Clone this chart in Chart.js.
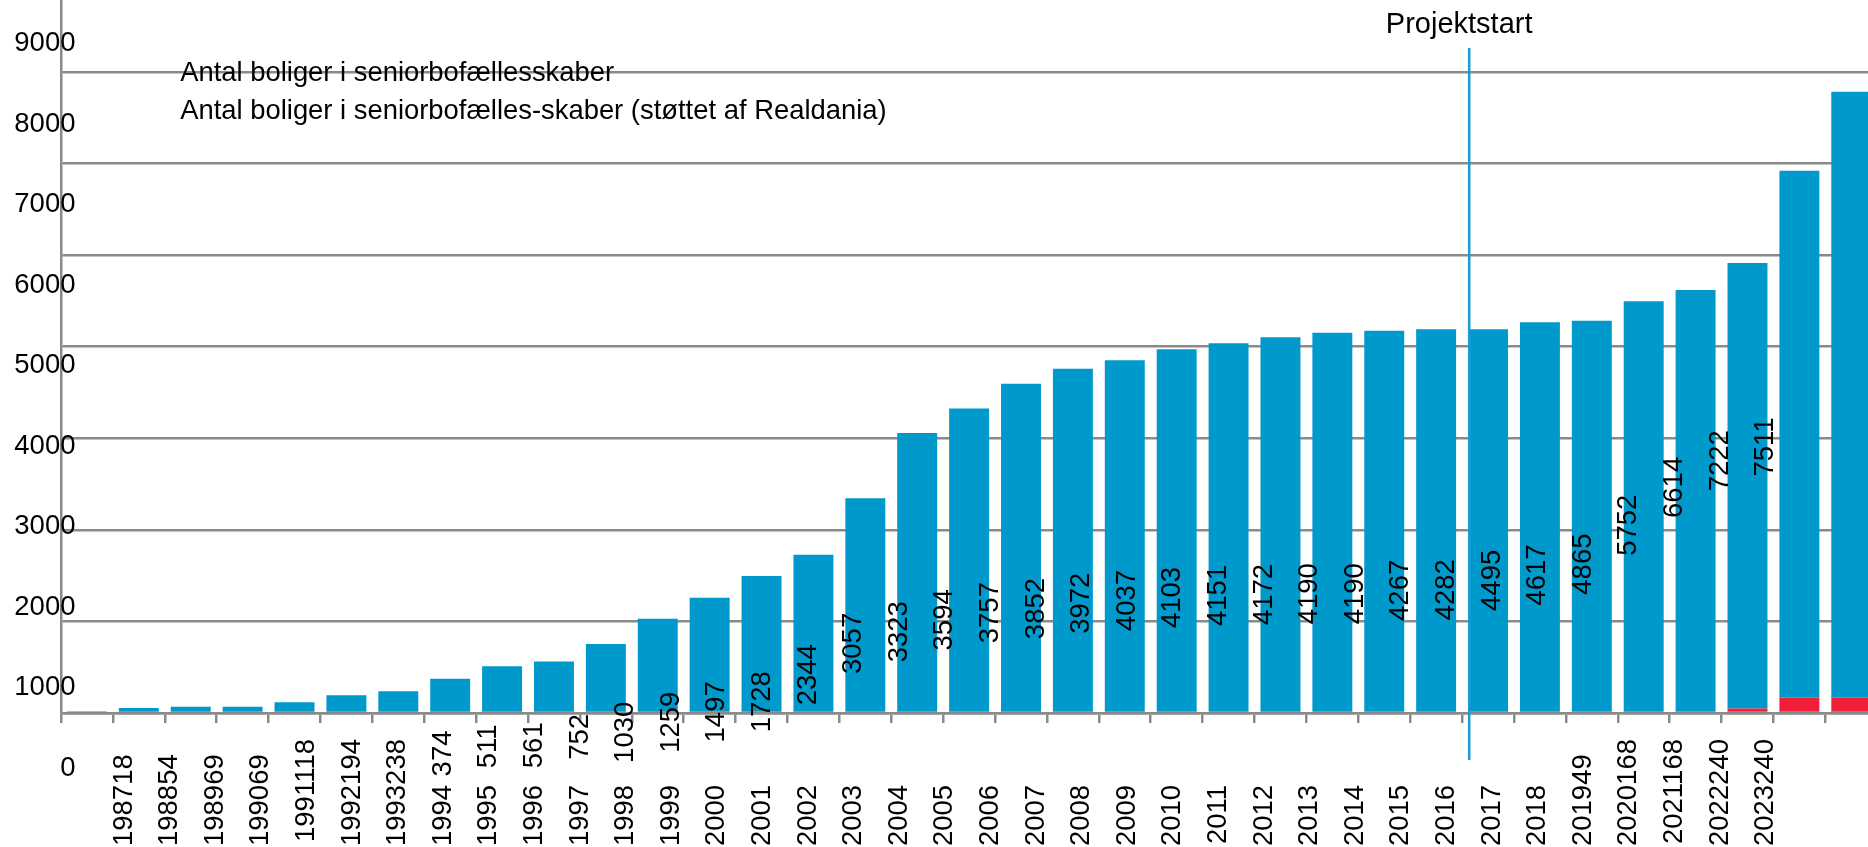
<!DOCTYPE html>
<html>
<head>
<meta charset="utf-8">
<title>Antal boliger i seniorbofællesskaber</title>
<script src="https://cdn.jsdelivr.net/npm/chart.js@4.4.1/dist/chart.umd.min.js"></script>
<style>
  html, body { margin: 0; padding: 0; background: #fff; overflow: hidden; }
  #wrap { position: relative; width: 2051px; height: 847px; }
</style>
</head>
<body>
<div id="wrap"><canvas id="chart"></canvas></div>
<script>
// Antal boliger i seniorbofællesskaber 1987-2023

const years = ['1987', '1988', '1989', '1990', '1991', '1992', '1993', '1994', '1995', '1996',
    '1997', '1998', '1999', '2000', '2001', '2002', '2003', '2004', '2005', '2006',
    '2007', '2008', '2009', '2010', '2011', '2012', '2013', '2014', '2015', '2016',
    '2017', '2018', '2019', '2020', '2021', '2022', '2023'];

const totalHomes = [18, 54, 69, 69, 118, 194, 238, 374, 511, 561,
    752, 1030, 1259, 1497, 1728, 2344, 3057, 3323, 3594, 3757,
    3852, 3972, 4037, 4103, 4151, 4172, 4190, 4190, 4267, 4282,
    4495, 4617, 4865, 5752, 6614, 7222, 7511];

const realdaniaHomes = [0, 0, 0, 0, 0, 0, 0, 0, 0, 0,
    0, 0, 0, 0, 0, 0, 0, 0, 0, 0,
    0, 0, 0, 0, 0, 0, 0, 0, 0, 0,
    0, 0, 49, 168, 168, 240, 240];

// labels under the axis, as they are written in the original
const tickLabels = ['198718', '198854', '198969', '199069', '1991118', '1992194', '1993238', '1994', '1995', '1996',
    '1997', '1998', '1999', '2000', '2001', '2002', '2003', '2004', '2005', '2006',
    '2007', '2008', '2009', '2010', '2011', '2012', '2013', '2014', '2015', '2016',
    '2017', '2018', '201949', '2020168', '2021168', '2022240', '2023240'];

// numbers floating above the year labels, from 1994 on
const floatingFrom = years.indexOf('1994');
const floatingValues = totalHomes.slice(floatingFrom);

// tick labels on the left, and the gridlines behind the bars
const yTickValues = [0, 1000, 2000, 3000, 4000, 5000, 6000, 7000, 8000, 9000];
const gridValues = [0, 1000, 2000, 3000, 4000, 5000, 6000, 7000];

const seriesNames = [
    'Antal boliger i seniorbofællesskaber',
    'Antal boliger i seniorbofælles-skaber (støttet af Realdania)'
];

const projectStart = { text: 'Projektstart', afterYear: '2016' };

// Styles
const gray = '#8a8a8a';
const blue = '#0099cc';
const red = '#f21f38';
const lineBlue = '#1a9ad6';
const fontFamily = '"Liberation Sans", Arial, sans-serif';

Chart.defaults.font.family = fontFamily;
Chart.defaults.color = '#000';

// every label gets the width of 7 digits (a space is half a digit wide),
// so the rotated labels all start on the same line
function padLabel(label) {
    return label + ' '.repeat(Math.max(0, 2 * (7 - label.length)));
}

// Numbers drawn at the hidden points of the third dataset
const floatingLabels = {
    id: 'floatingLabels',
    afterDatasetsDraw(chart) {
        const ctx = chart.ctx;
        const meta = chart.getDatasetMeta(2);
        ctx.save();
        ctx.font = '27.5px ' + fontFamily;
        ctx.fillStyle = '#000';
        ctx.textAlign = 'right';
        ctx.textBaseline = 'middle';
        meta.data.forEach((point, i) => {
            ctx.save();
            ctx.translate(point.x, point.y);
            ctx.rotate(-Math.PI / 2);
            ctx.fillText(String(floatingValues[i]), 0, 0);
            ctx.restore();
        });
        ctx.restore();
    }
};

// Vertical marker between 2016 and 2017
const projectStartLine = {
    id: 'projectStartLine',
    afterDatasetsDraw(chart) {
        const { ctx, chartArea, scales } = chart;
        const x = scales.x2.getPixelForValue(years.indexOf(projectStart.afterYear) + 0.5);
        ctx.save();
        ctx.strokeStyle = lineBlue;
        ctx.lineWidth = 2.5;
        ctx.beginPath();
        ctx.moveTo(x, chartArea.top + 48);
        ctx.lineTo(x, chartArea.bottom + 47);
        ctx.stroke();
        ctx.font = '29px ' + fontFamily;
        ctx.fillStyle = '#000';
        ctx.textAlign = 'center';
        ctx.textBaseline = 'alphabetic';
        ctx.fillText(projectStart.text, x - 10, chartArea.top + 33);
        ctx.restore();
    }
};

new Chart(document.getElementById('chart'), {
    type: 'bar',
    data: {
        labels: years,
        datasets: [
            {
                label: seriesNames[1],
                data: realdaniaHomes,
                backgroundColor: red,
                grouped: false,
                categoryPercentage: 1,
                barPercentage: 0.77
            },
            {
                label: seriesNames[0],
                data: totalHomes,
                backgroundColor: blue,
                grouped: false,
                categoryPercentage: 1,
                barPercentage: 0.77
            },
            {
                type: 'line',
                label: 'values',
                data: floatingValues.map((v, i) => ({ x: floatingFrom + i, y: v })),
                xAxisID: 'x2',
                yAxisID: 'y3',
                showLine: false,
                pointRadius: 0,
                pointHoverRadius: 0
            }
        ]
    },
    options: {
        responsive: true,
        maintainAspectRatio: false,
        animation: false,
        layout: { padding: { top: 0, left: 61, right: 70, bottom: 124 } },
        plugins: {
            tooltip: { enabled: false },
            legend: {
                position: 'chartArea',
                align: 'start',
                reverse: true,
                title: { display: true, text: ' ', font: { size: 12 }, padding: { top: 34, bottom: 0 } },
                labels: {
                    font: { size: 27.4 },
                    color: '#000',
                    boxWidth: 94.5,
                    padding: 11,
                    filter: item => item.datasetIndex < 2,
                    generateLabels: c => Chart.defaults.plugins.legend.labels.generateLabels(c).map(item =>
                        Object.assign(item, { fillStyle: 'rgba(0,0,0,0)', strokeStyle: 'rgba(0,0,0,0)', lineWidth: 0 }))
                }
            }
        },
        scales: {
            x: {
                type: 'category',
                stacked: true,
                offset: true,
                z: 1,
                grid: { offset: true, drawOnChartArea: false, drawTicks: true, tickLength: 10, color: gray, lineWidth: 2.5 },
                border: { color: gray, width: 2.5 },
                ticks: { display: false }
            },
            y: {
                stacked: true,
                bounds: 'data',
                min: 0,
                max: 7784,
                afterBuildTicks: scale => { scale.ticks = gridValues.map(value => ({ value })); },
                grid: { color: gray, lineWidth: 2.5, drawTicks: false },
                border: { color: gray, width: 2.5 },
                ticks: { display: false }
            },
            x2: {
                type: 'linear',
                position: { y: 0 },
                offset: false,
                bounds: 'data',
                min: -1.3816,
                max: 40.724,
                grid: { display: false, drawTicks: false },
                border: { display: false },
                afterBuildTicks: scale => { scale.ticks = tickLabels.map((_, i) => ({ value: i })); },
                ticks: {
                    autoSkip: false,
                    minRotation: 90,
                    maxRotation: 90,
                    padding: 26,
                    font: { size: 27.5 },
                    color: '#000',
                    callback: v => padLabel(tickLabels[v] || '')
                }
            },
            y2: {
                type: 'linear',
                position: { x: -0.2206 },
                bounds: 'data',
                min: 683,
                max: 9540,
                grid: { display: false, drawTicks: false },
                border: { display: false },
                afterBuildTicks: scale => { scale.ticks = yTickValues.map(value => ({ value })); },
                ticks: {
                    padding: -14.5,
                    autoSkip: false,
                    font: { size: 27.5, lineHeight: 1 },
                    color: '#000',
                    callback: v => String(v)
                }
            },
            y3: {
                type: 'linear',
                display: false,
                bounds: 'data',
                min: 773,
                max: 17029
            }
        }
    },
    plugins: [floatingLabels, projectStartLine]
});
</script>
</body>
</html>
